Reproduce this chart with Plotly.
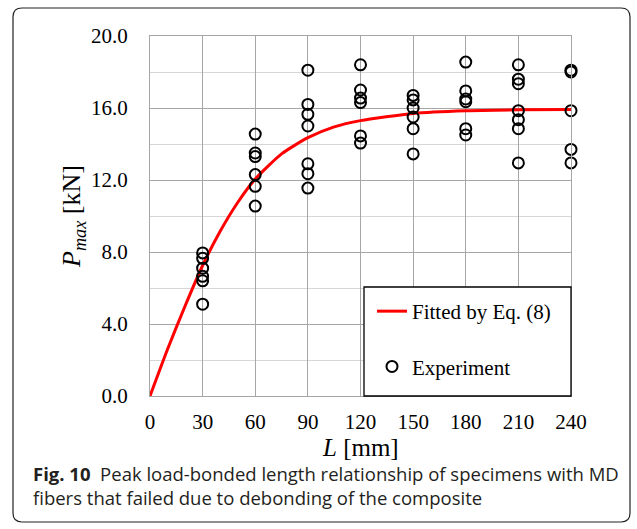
import plotly.graph_objects as go

# Experimental peak loads P_max [kN] grouped by bonded length L [mm]
lengths = [30, 60, 90, 120, 150, 180, 210, 240]
pmax_30 = [7.95, 7.65, 7.1, 6.65, 6.4, 5.1]
pmax_60 = [14.55, 13.5, 13.3, 12.3, 11.65, 10.55]
pmax_90 = [18.1, 16.2, 15.65, 15.0, 12.9, 12.35, 11.55]
pmax_120 = [18.4, 17.0, 16.55, 16.3, 14.45, 14.05]
pmax_150 = [16.7, 16.45, 16.0, 15.5, 14.85, 13.45]
pmax_180 = [18.55, 16.95, 16.5, 16.35, 14.85, 14.5]
pmax_210 = [18.4, 17.6, 17.35, 15.85, 15.35, 14.85, 12.95]
pmax_240 = [18.1, 18.0, 15.85, 13.7, 12.95]

# Fitted curve, Eq. (8)
fit_L = [0, 10, 20, 30, 40, 50, 60, 75, 90, 105, 120, 150, 180, 210, 240]
fit_P = [0, 2.6, 5.0, 7.25, 9.15, 10.75, 12.05, 13.45, 14.35, 14.95, 15.3, 15.7, 15.85, 15.9, 15.92]

x_ticks = [0, 30, 60, 90, 120, 150, 180, 210, 240]
y_ticks = [0, 4, 8, 12, 16, 20]

groups = [pmax_30, pmax_60, pmax_90, pmax_120, pmax_150, pmax_180, pmax_210, pmax_240]
exp_L, exp_P = [], []
for L, vals in zip(lengths, groups):
    exp_L += [L] * len(vals)
    exp_P += vals

W, H = 637, 529
ML, MR, MT, MB = 150, 66, 36, 133
PW, PH = W - ML - MR, H - MT - MB


def fx(px):
    return (px - ML) / PW


def fy(py):
    return 1 - (py - MT) / PH


SERIF = "Liberation Serif, Times New Roman, serif"
SANS = "Open Sans, Noto Sans, sans-serif"

fig = go.Figure()
fig.add_trace(go.Scatter(
    x=fit_L, y=fit_P, mode="lines", name="Fitted by Eq. (8)",
    line=dict(color="#ff0000", width=3, shape="spline", smoothing=0.6),
    legendgroup="fit", legendrank=1, cliponaxis=False,
))
fig.add_trace(go.Scatter(
    x=exp_L, y=exp_P, mode="markers", name="Experiment",
    marker=dict(symbol="circle-open", size=11, color="black",
                line=dict(color="black", width=2)),
    legendgroup="exp", legendrank=2, cliponaxis=False,
))

r = 9
left, right, top, bottom = 13, 630, 8, 522
frame = (
    f"M {fx(left + r)},{fy(top)} L {fx(right - r)},{fy(top)} "
    f"Q {fx(right)},{fy(top)} {fx(right)},{fy(top + r)} "
    f"L {fx(right)},{fy(bottom - r)} "
    f"Q {fx(right)},{fy(bottom)} {fx(right - r)},{fy(bottom)} "
    f"L {fx(left + r)},{fy(bottom)} "
    f"Q {fx(left)},{fy(bottom)} {fx(left)},{fy(bottom - r)} "
    f"L {fx(left)},{fy(top + r)} "
    f"Q {fx(left)},{fy(top)} {fx(left + r)},{fy(top)} Z"
)

fig.update_layout(
    width=W, height=H,
    margin=dict(l=ML, r=MR, t=MT, b=MB),
    paper_bgcolor="white", plot_bgcolor="white",
    font=dict(family=SERIF, size=21, color="black"),
    showlegend=True,
    legend=dict(
        x=fx(372), y=fy(291), xanchor="left", yanchor="top",
        bgcolor="rgba(0,0,0,0)", borderwidth=0,
        font=dict(family=SERIF, size=21, color="black"),
        tracegroupgap=25,
    ),
    shapes=[
        dict(type="path", xref="paper", yref="paper", path=frame,
             line=dict(color="#222222", width=1.2), layer="below"),
        dict(type="rect", xref="paper", yref="paper",
             x0=fx(364), x1=fx(571), y0=fy(396), y1=fy(287),
             fillcolor="white", line=dict(color="black", width=1.3),
             layer="above"),
    ],
    annotations=[
        dict(xref="paper", yref="paper", x=fx(360), y=fy(447),
             xanchor="center", yanchor="middle", showarrow=False,
             text="<i>L</i> [mm]",
             font=dict(family=SERIF, size=25, color="black")),
        dict(xref="paper", yref="paper", x=fx(31), y=fy(485),
             xanchor="left", yanchor="middle", align="left", showarrow=False,
             text="<b>Fig. 10</b>  Peak load-bonded length relationship of specimens with MD"
                  "<br>fibers that failed due to debonding of the composite",
             font=dict(family=SANS, size=18.5, color="#231f20")),
    ],
)

fig.update_xaxes(
    range=[0, 240], tickvals=x_ticks, ticktext=[str(v) for v in x_ticks],
    showgrid=True, gridcolor="#a6a6a6", gridwidth=1,
    showline=True, linecolor="#a6a6a6", linewidth=1, mirror=True,
    zeroline=False, ticks="", ticklabelstandoff=7,
    tickfont=dict(family=SERIF, size=21, color="black"),
)
fig.update_yaxes(
    range=[0, 20], tickvals=y_ticks, ticktext=[f"{v:.1f}" for v in y_ticks],
    showgrid=True, gridcolor="#a6a6a6", gridwidth=1,
    minor=dict(dtick=2, tick0=0, showgrid=True, gridcolor="#d6d6d6", gridwidth=1),
    showline=True, linecolor="#a6a6a6", linewidth=1, mirror=True,
    zeroline=False, ticks="", ticklabelstandoff=17,
    tickfont=dict(family=SERIF, size=21, color="black"),
    title=dict(text="<i>P</i><sub><i>max</i></sub> [kN]", standoff=2,
               font=dict(family=SERIF, size=26, color="black")),
)

fig.write_html("out.html")
